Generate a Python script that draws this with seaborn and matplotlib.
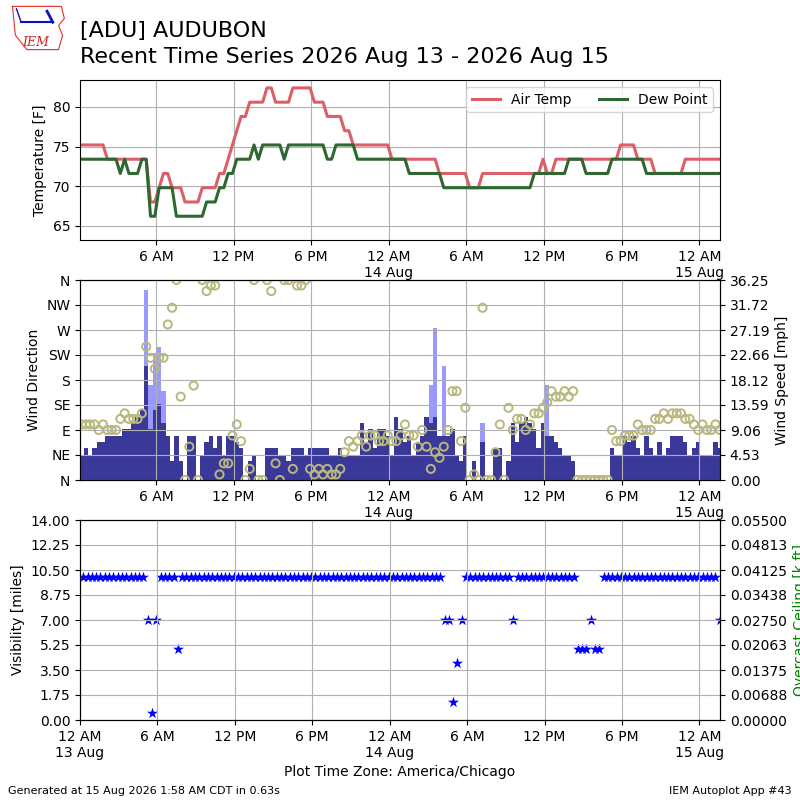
import numpy as np
import pandas as pd
import seaborn as sns
import matplotlib.pyplot as plt
import matplotlib.dates as mdates

# observations every 20 minutes, 13 Aug 00:15 -> 15 Aug 01:35 (local time)
times = pd.date_range("2026-08-13 00:15", periods=149, freq="20min")

# air temperature [F]
tmpf = [75.2, 75.2, 75.2, 75.2, 75.2, 75.2, 73.4, 73.4, 73.4, 73.4, 73.4, 73.4,
        73.4, 73.4, 73.4, 73.4, 68, 68, 69.8, 71.6, 71.6, 69.8, 69.8, 69.8,
        68, 68, 68, 68, 69.8, 69.8, 69.8, 69.8, 71.6, 71.6, 73.4, 75.2,
        77, 78.8, 78.8, 80.6, 80.6, 80.6, 80.6, 82.4, 82.4, 80.6, 80.6, 80.6,
        80.6, 82.4, 82.4, 82.4, 82.4, 82.4, 80.6, 80.6, 80.6, 78.8, 78.8, 78.8,
        78.8, 77, 77, 75.2, 75.2, 75.2, 75.2, 75.2, 75.2, 75.2, 75.2, 75.2,
        73.4, 73.4, 73.4, 73.4, 73.4, 73.4, 73.4, 73.4, 73.4, 73.4, 73.4, 71.6,
        71.6, 71.6, 71.6, 71.6, 71.6, 71.6, 69.8, 69.8, 69.8, 71.6, 71.6, 71.6,
        71.6, 71.6, 71.6, 71.6, 71.6, 71.6, 71.6, 71.6, 71.6, 71.6, 71.6, 73.4,
        71.6, 71.6, 73.4, 73.4, 73.4, 73.4, 73.4, 73.4, 73.4, 73.4, 73.4, 73.4,
        73.4, 73.4, 73.4, 73.4, 73.4, 75.2, 75.2, 75.2, 75.2, 73.4, 73.4, 73.4,
        73.4, 71.6, 71.6, 71.6, 71.6, 71.6, 71.6, 71.6, 73.4, 73.4, 73.4, 73.4,
        73.4, 73.4, 73.4, 73.4, 73.4]

# dew point [F]
dwpf = [73.4, 73.4, 73.4, 73.4, 73.4, 73.4, 73.4, 73.4, 73.4, 71.6, 73.4, 71.6,
        71.6, 71.6, 73.4, 73.4, 66.2, 66.2, 69.8, 69.8, 69.8, 69.8, 66.2, 66.2,
        66.2, 66.2, 66.2, 66.2, 66.2, 68, 68, 68, 69.8, 69.8, 71.6, 71.6,
        73.4, 73.4, 73.4, 73.4, 75.2, 73.4, 75.2, 75.2, 75.2, 75.2, 75.2, 73.4,
        75.2, 75.2, 75.2, 75.2, 75.2, 75.2, 75.2, 75.2, 75.2, 73.4, 73.4, 75.2,
        75.2, 75.2, 75.2, 75.2, 73.4, 73.4, 73.4, 73.4, 73.4, 73.4, 73.4, 73.4,
        73.4, 73.4, 73.4, 73.4, 71.6, 71.6, 71.6, 71.6, 71.6, 71.6, 71.6, 71.6,
        69.8, 69.8, 69.8, 69.8, 69.8, 69.8, 69.8, 69.8, 69.8, 69.8, 69.8, 69.8,
        69.8, 69.8, 69.8, 69.8, 69.8, 69.8, 69.8, 69.8, 69.8, 71.6, 71.6, 71.6,
        71.6, 71.6, 71.6, 71.6, 71.6, 73.4, 73.4, 73.4, 73.4, 71.6, 71.6, 71.6,
        71.6, 71.6, 71.6, 73.4, 73.4, 73.4, 73.4, 73.4, 73.4, 73.4, 73.4, 71.6,
        71.6, 71.6, 71.6, 71.6, 71.6, 71.6, 71.6, 71.6, 71.6, 71.6, 71.6, 71.6,
        71.6, 71.6, 71.6, 71.6, 71.6]

# wind speed [kt]
sknt = [4, 5, 4, 5, 6, 6, 7, 7, 7, 7, 8, 8,
        9, 10, 11, 18, 8, 11, 12, 9, 7, 3, 7, 3,
        0, 7, 7, 0, 4, 6, 7, 5, 7, 4, 7, 7,
        6, 5, 0, 3, 4, 0, 0, 5, 5, 5, 4, 4,
        3, 5, 5, 5, 4, 5, 5, 5, 5, 5, 4, 4,
        5, 4, 4, 4, 4, 9, 6, 8, 5, 8, 8, 7,
        4, 10, 8, 6, 7, 4, 6, 7, 10, 9, 10, 7,
        7, 7, 8, 4, 3, 7, 0, 3, 0, 6, 0, 0,
        5, 5, 0, 3, 9, 6, 9, 10, 9, 8, 5, 9,
        7, 7, 6, 5, 4, 4, 3, 0, 0, 0, 0, 0,
        0, 0, 0, 5, 4, 4, 7, 6, 7, 5, 4, 7,
        5, 4, 6, 4, 5, 7, 7, 7, 6, 4, 5, 6,
        4, 4, 4, 6, 5]

# wind gusts [kt], only a few observations report them
gust_obs = [15, 16, 17, 18, 19, 81, 82, 84, 93, 108]
gust_kt = [30, 15, 20, 21, 14, 15, 24, 18, 9, 15]

# wind direction [deg]
drct = [100, 100, 100, 100, 90, 100, 90, 90, 90, 110, 120, 110,
        110, 110, 120, 240, 220, 200, 220, 220, 280, 310, 360, 150,
        0, 60, 170, 0, 360, 340, 350, 350, 10, 30, 30, 80,
        100, 70, 0, 20, 360, 0, 0, 360, 340, 30, 0, 360,
        360, 20, 350, 350, 360, 20, 10, 20, 10, 20, 10, 10,
        20, 50, 70, 60, 70, 80, 60, 80, 80, 70, 70, 80,
        70, 70, 80, 100, 80, 80, 60, 90, 60, 20, 50, 40,
        60, 90, 160, 160, 70, 130, 0, 10, 0, 310, 0, 0,
        50, 100, 0, 130, 90, 110, 110, 90, 100, 120, 120, 130,
        140, 160, 150, 150, 160, 150, 160, 0, 0, 0, 0, 0,
        0, 0, 0, 90, 70, 70, 80, 80, 80, 100, 90, 90,
        90, 110, 110, 120, 110, 120, 120, 120, 110, 110, 100, 90,
        100, 90, 90, 100, 90]

# visibility [miles]
vsby = [10, 10, 10, 10, 10, 10, 10, 10, 10, 10, 10, 10,
        10, 10, 10, 7, 0.5, 7, 10, 10, 10, 10, 5, 10,
        10, 10, 10, 10, 10, 10, 10, 10, 10, 10, 10, 10,
        10, 10, 10, 10, 10, 10, 10, 10, 10, 10, 10, 10,
        10, 10, 10, 10, 10, 10, 10, 10, 10, 10, 10, 10,
        10, 10, 10, 10, 10, 10, 10, 10, 10, 10, 10, 10,
        10, 10, 10, 10, 10, 10, 10, 10, 10, 10, 10, 10,
        7, 7, 1.25, 4, 7, 10, 10, 10, 10, 10, 10, 10,
        10, 10, 10, 10, 7, 10, 10, 10, 10, 10, 10, 10,
        10, 10, 10, 10, 10, 10, 10, 5, 5, 5, 7, 5,
        5, 10, 10, 10, 10, 10, 10, 10, 10, 10, 10, 10,
        10, 10, 10, 10, 10, 10, 10, 10, 10, 10, 10, 10,
        10, 10, 10, 10, 7]

KT2MPH = 1.15078
smph = np.array(sknt) * KT2MPH
gmph = np.array(gust_kt) * KT2MPH
xnum = mdates.date2num(times)
gx = xnum[gust_obs]
barw = 20.0 / 1440.0


def tick_label(t):
    if t.hour == 0:
        return "12 AM\n%d %s" % (t.day, t.strftime("%b"))
    h = t.hour % 12 or 12
    return "%d %s" % (h, "AM" if t.hour < 12 else "PM")


ticks = pd.date_range("2026-08-13 00:00", "2026-08-15 00:00", freq="6h")
tlabels = [tick_label(t) for t in ticks]

fig = plt.figure(figsize=(8, 8), dpi=100)
ax1 = fig.add_axes([0.1, 0.70, 0.8, 0.20])
ax2 = fig.add_axes([0.1, 0.40, 0.8, 0.25])
ax3 = fig.add_axes([0.1, 0.10, 0.8, 0.25])

xmin_top = pd.Timestamp("2026-08-13 00:08")
xmin_bot = pd.Timestamp("2026-08-13 00:00")
xmax = pd.Timestamp("2026-08-15 01:36")

# --- temperature panel
sns.lineplot(x=times, y=tmpf, ax=ax1, color="#dc5f68", lw=2.2, label="Air Temp")
sns.lineplot(x=times, y=dwpf, ax=ax1, color="#2f6730", lw=2.2, label="Dew Point")
ax1.set_ylim(min(dwpf) - 3, max(tmpf) + 1)
ax1.set_ylabel("Temperature [F]")
ax1.set_xlabel("")
ax1.legend(loc="upper right", ncol=2, fontsize=10)
ax1.grid(True)

# --- wind panel
ax2b = ax2.twinx()
ax2b.bar(gx, gmph, width=barw, color="#9999ff", lw=0)
ax2b.bar(xnum, smph, width=barw, color="#3a3898", lw=0)
ymax = gmph.max() * 1.05
ax2b.set_ylim(0, ymax)
ax2b.set_yticks(np.linspace(0, ymax, 9))
ax2b.set_yticklabels(["%.2f" % v for v in np.linspace(0, ymax, 9)])
ax2b.set_ylabel("Wind Speed [mph]")

sns.scatterplot(x=times, y=drct, ax=ax2, marker="o", s=34, facecolor="none",
                edgecolor="#b8b87c", linewidth=1.4)
ax2.set_zorder(ax2b.get_zorder() + 1)
ax2.patch.set_visible(False)
ax2.set_ylim(0, 360)
ax2.set_yticks(range(0, 361, 45))
ax2.set_yticklabels(["N", "NE", "E", "SE", "S", "SW", "W", "NW", "N"])
ax2.set_ylabel("Wind Direction")
ax2.set_xlabel("")
ax2.grid(True)

# --- visibility panel
sns.scatterplot(x=times, y=vsby, ax=ax3, marker="*", s=70, color="blue",
                linewidth=0)
ax3.set_ylim(0, 14)
ax3.set_yticks(np.linspace(0, 14, 9))
ax3.set_yticklabels(["%.2f" % v for v in np.linspace(0, 14, 9)])
ax3.set_ylabel("Visibility [miles]")
ax3.grid(True)
ax3b = ax3.twinx()
ax3b.set_ylim(0, 0.055)
ax3b.set_yticks(np.linspace(0, 0.055, 9))
ax3b.set_yticklabels(["%.5f" % v for v in np.linspace(0, 0.055, 9)])
ax3b.set_ylabel("Overcast Ceiling [k ft]", color="green")
ax3.set_xlabel("Plot Time Zone: America/Chicago")

for ax, lo in [(ax1, xmin_top), (ax2, xmin_top), (ax3, xmin_bot)]:
    ax.set_xticks(mdates.date2num(ticks))
    ax.set_xticklabels(tlabels)
    ax.set_xlim(mdates.date2num(lo), mdates.date2num(xmax))

fig.text(0.1, 1 - 37 / 800, "[ADU] AUDUBON", fontsize=16, va="baseline")
fig.text(0.1, 1 - 63 / 800, "Recent Time Series 2026 Aug 13 - 2026 Aug 15",
         fontsize=16, va="baseline")
fig.text(0.01, 0.008, "Generated at 15 Aug 2026 1:58 AM CDT in 0.63s", fontsize=8)
fig.text(0.99, 0.008, "IEM Autoplot App #43", fontsize=8, ha="right")

# small IEM logo
logo = fig.add_axes([0.012, 0.935, 0.072, 0.06])
logo.plot([0.05, 0.9, 0.95, 0.85, 0.92, 0.85, 0.3, 0.1, 0.05],
          [0.95, 0.95, 0.7, 0.55, 0.35, 0.05, 0.05, 0.35, 0.95],
          color="#e03030", lw=0.8)
logo.plot([0.2, 0.75], [0.62, 0.62], color="#1010c0", lw=1.5)
logo.plot([0.2, 0.12], [0.62, 0.9], color="#1010c0", lw=1)
logo.plot([0.75, 0.65], [0.62, 0.85], color="#1010c0", lw=2)
logo.text(0.45, 0.12, "IEM", color="#d02020", fontsize=9, style="italic",
          family="DejaVu Serif", ha="center")
logo.set_xlim(0, 1)
logo.set_ylim(0, 1)
logo.axis("off")

fig.savefig("out.png", dpi=100)
